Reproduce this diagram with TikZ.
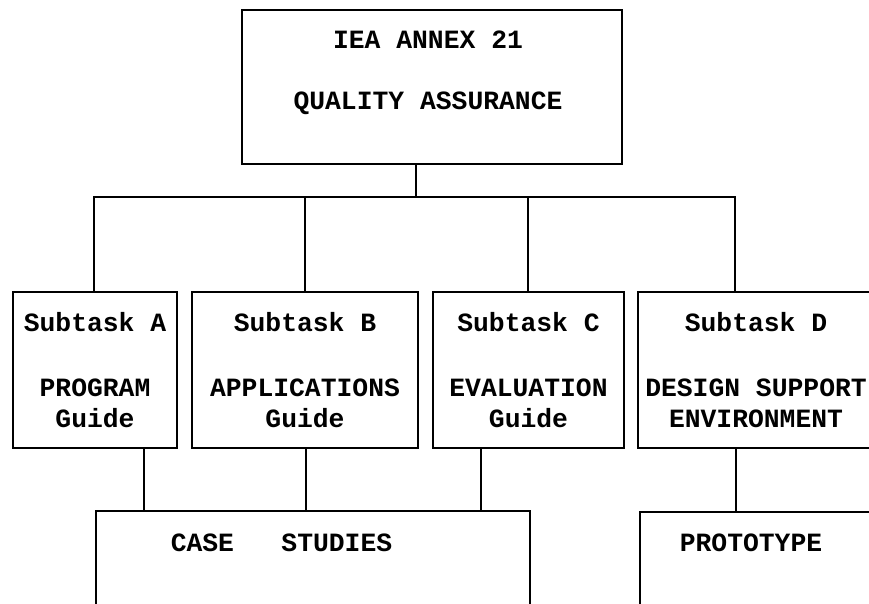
\documentclass[tikz,border=0pt]{standalone}
\usepackage{fontspec}
\setmonofont{Liberation Mono}
\tikzset{frame/.style={draw,line width=1.5pt,inner sep=0pt}}
\tikzset{lbl/.style={font=\ttfamily\bfseries\fontsize{15}{17.6}\selectfont,align=center,inner sep=0pt}}
\tikzset{wire/.style={line width=1.5pt}}

\begin{document}
\begin{tikzpicture}
	    \useasboundingbox (0,0) rectangle (17.38,-12.06);
	    \clip (0,0) rectangle (17.38,-12.06);
	    \node[frame,minimum width=7.6cm,minimum height=3.08cm] (qa) at (8.64,-1.74) {};
	    \node[lbl] (qa-t) at (8.56,-1.45) {IEA ANNEX 21\\[17pt]QUALITY ASSURANCE};
	    \node[frame,lbl,minimum width=3.28cm,minimum height=3.12cm] (sa) at (1.9,-7.4) {Subtask A\\[19.3pt]PROGRAM\\Guide};
	    \node[frame,lbl,minimum width=4.52cm,minimum height=3.12cm] (sb) at (6.1,-7.4) {Subtask B\\[19.3pt]APPLICATIONS\\Guide};
	    \node[frame,lbl,minimum width=3.82cm,minimum height=3.12cm] (sc) at (10.57,-7.4) {Subtask C\\[19.3pt]EVALUATION\\Guide};
	    \node[frame,minimum width=5.24cm,minimum height=3.12cm] (sd) at (15.38,-7.4) {};
	    \node[lbl] (sd-t) at (15.12,-7.4) {Subtask D\\[19.3pt]DESIGN SUPPORT\\ENVIRONMENT};
	    \node[frame,minimum width=8.68cm,minimum height=2.58cm] (cs) at (6.26,-11.51) {};
	    \node[lbl] (cs-t) at (5.63,-10.86) {CASE~~~STUDIES};
	    \node[frame,minimum width=5.2cm,minimum height=2.56cm] (pt) at (15.4,-11.52) {};
	    \node[lbl] (pt-t) at (15.02,-10.86) {PROTOTYPE};
	    \coordinate (bus) at (8.32,-3.94);
	    \coordinate (busA) at (1.88,-3.94);
	    \coordinate (busB) at (6.1,-3.94);
	    \coordinate (busC) at (10.56,-3.94);
	    \coordinate (busD) at (14.7,-3.94);
	    \draw[wire] (qa.south -| bus) -- (bus);
	    \draw[wire] (sa.north -| busA) -- (busA) -- (busD) -- (sd.north -| busD);
	    \draw[wire] (busB) -- (sb.north -| busB);
	    \draw[wire] (busC) -- (sc.north -| busC);
	    \draw[wire] (sa.south -| 2.88,0) -- (cs.north -| 2.88,0);
	    \draw[wire] (sb.south -| 6.12,0) -- (cs.north -| 6.12,0);
	    \draw[wire] (sc.south -| 9.62,0) -- (cs.north -| 9.62,0);
	    \draw[wire] (sd.south -| 14.72,0) -- (pt.north -| 14.72,0);
        \end{tikzpicture}
\end{document}
